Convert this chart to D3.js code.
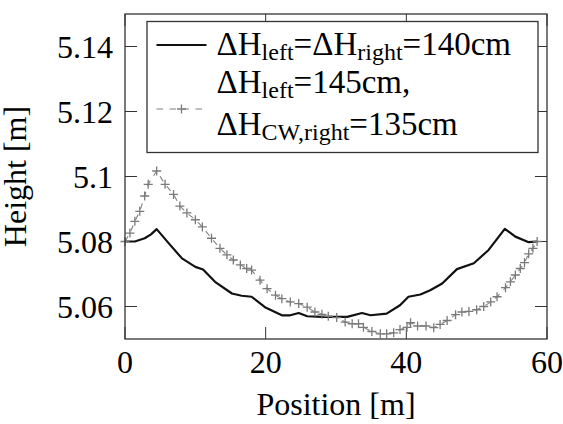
<!DOCTYPE html>
<html><head><meta charset="utf-8"><script src="https://cdn.jsdelivr.net/npm/d3@7"></script></head>
<body style="margin:0">
<script>
// Water level along the channel: symmetric case vs. asymmetric head drop

// solid: dH_left = dH_right = 140cm
const solidPos = [0, 1.4, 2.8, 3.7, 4.5, 6.2, 8.1, 10.0, 11.1, 12.8, 15.2, 16.6, 18.0, 19.9, 22.3, 23.5, 24.7, 25.9, 28.0, 31.6, 33.7, 34.9, 37.2, 39.1, 40.3, 42.0, 43.4, 45.1, 47.2, 49.6, 51.7, 54.0, 55.5, 57.4, 58.6];
const solidH = [5.0800, 5.0800, 5.0810, 5.0822, 5.0838, 5.0795, 5.0748, 5.0722, 5.0714, 5.0676, 5.0640, 5.0633, 5.0630, 5.0598, 5.0573, 5.0573, 5.0580, 5.0570, 5.0568, 5.0568, 5.0580, 5.0573, 5.0578, 5.0604, 5.0630, 5.0637, 5.0650, 5.0671, 5.0715, 5.0733, 5.0774, 5.0839, 5.0815, 5.0798, 5.0800];

// dashed + marks: dH_left = 145cm, dH_CW,right = 135cm
const crossPos = [0, 0.7, 1.4, 2.1, 2.8, 3.3, 4.5, 5.7, 6.9, 7.8, 8.8, 10.0, 11.0, 12.3, 13.5, 14.5, 15.4, 16.4, 17.3, 18.0, 19.2, 20.2, 21.4, 22.3, 23.5, 24.7, 25.9, 27.0, 28.0, 28.9, 30.1, 31.3, 32.3, 33.2, 33.9, 35.1, 36.3, 37.2, 38.2, 39.1, 40.1, 40.6, 41.6, 42.8, 43.9, 44.8, 45.8, 47.0, 47.9, 48.9, 50.0, 51.0, 52.0, 52.9, 54.1, 54.8, 55.5, 56.2, 56.8, 57.4, 58.0, 58.6];
const crossH = [5.0800, 5.0826, 5.0862, 5.0893, 5.0940, 5.0976, 5.1017, 5.0976, 5.0945, 5.0909, 5.0888, 5.0867, 5.0845, 5.0810, 5.0779, 5.0759, 5.0743, 5.0728, 5.0717, 5.0712, 5.0681, 5.0655, 5.0635, 5.0624, 5.0614, 5.0609, 5.0598, 5.0583, 5.0576, 5.0570, 5.0566, 5.0552, 5.0547, 5.0547, 5.0536, 5.0523, 5.0516, 5.0516, 5.0519, 5.0529, 5.0536, 5.0550, 5.0540, 5.0540, 5.0535, 5.0545, 5.0557, 5.0575, 5.0583, 5.0585, 5.0590, 5.0600, 5.0614, 5.0630, 5.0658, 5.0676, 5.0697, 5.0717, 5.0735, 5.0762, 5.0779, 5.0800];

const xTicks = [0, 20, 40, 60];
const yTicks = [5.06, 5.08, 5.1, 5.12, 5.14];
const yTickLabels = ['5.06', '5.08', '5.1', '5.12', '5.14'];

const W = 563, H = 424;
const m = { top: 14, right: 16, bottom: 85, left: 125 };
const w = W - m.left - m.right;
const h = H - m.top - m.bottom;

const svg = d3.select('body').append('svg').attr('width', W).attr('height', H);

// text first, so the serif face gets picked up before the marks
const txt = svg.append('g');
const plot = svg.insert('g', ':first-child').attr('transform', `translate(${m.left},${m.top})`);

const x = d3.scaleLinear().domain([0, 60]).range([0, w]);
const y = d3.scaleLinear().domain([5.05, 5.15]).range([h, 0]);

const serif = s => s.style('font-family', "'Liberation Serif'").attr('font-size', 32);

txt.selectAll('.xl')
    .data(xTicks)
    .enter()
    .append('text')
    .attr('x', d => m.left + x(d))
    .attr('y', m.top + h + 34)
    .attr('text-anchor', 'middle')
    .call(serif)
    .text(d => d);

txt.selectAll('.yl')
    .data(yTicks)
    .enter()
    .append('text')
    .attr('x', m.left - 12)
    .attr('y', d => m.top + y(d) + 11)
    .attr('text-anchor', 'end')
    .call(serif)
    .text((d, i) => yTickLabels[i]);

txt.append('text')
    .attr('x', m.left + w / 2)
    .attr('y', 415)
    .attr('text-anchor', 'middle')
    .call(serif)
    .text('Position [m]');

txt.append('text')
    .attr('transform', `translate(26,${m.top + h / 2}) rotate(-90)`)
    .attr('text-anchor', 'middle')
    .call(serif)
    .text('Height [m]');

// ticks inward, mirrored on top and right
const axisColor = '#333';
const tick = 12;
const tickG = plot.append('g').attr('stroke', axisColor).attr('stroke-width', 1);
xTicks.forEach(t => {
    tickG.append('line').attr('x1', x(t)).attr('x2', x(t)).attr('y1', h).attr('y2', h - tick);
    tickG.append('line').attr('x1', x(t)).attr('x2', x(t)).attr('y1', 0).attr('y2', tick);
});
yTicks.forEach(t => {
    tickG.append('line').attr('x1', 0).attr('x2', tick).attr('y1', y(t)).attr('y2', y(t));
    tickG.append('line').attr('x1', w).attr('x2', w - tick).attr('y1', y(t)).attr('y2', y(t));
});

// series
const solid = solidPos.map((p, i) => ({ p, v: solidH[i] }));
const cross = crossPos.map((p, i) => ({ p, v: crossH[i] }));
const line = d3.line().x(d => x(d.p)).y(d => y(d.v));

plot.append('path')
    .datum(cross)
    .attr('d', line)
    .attr('fill', 'none')
    .attr('stroke', '#808080')
    .attr('stroke-width', 1.1)
    .attr('stroke-dasharray', '6,6');

plot.append('path')
    .datum(solid)
    .attr('d', line)
    .attr('fill', 'none')
    .attr('stroke', '#111')
    .attr('stroke-width', 2.2)
    .attr('stroke-linejoin', 'round');

const plus = 'M-4.5,0H4.5M0,-4.5V4.5';
plot.selectAll('.mk')
    .data(cross)
    .enter()
    .append('path')
    .attr('transform', d => `translate(${x(d.p)},${y(d.v)})`)
    .attr('d', plus)
    .attr('stroke', '#7a7a7a')
    .attr('stroke-width', 1.3)
    .attr('fill', 'none');

plot.append('rect')
    .attr('width', w)
    .attr('height', h)
    .attr('fill', 'none')
    .attr('stroke', axisColor)
    .attr('stroke-width', 1.3);

// legend (drawn over the plot)
const lg = svg.append('g');
lg.append('rect')
    .attr('x', 147).attr('y', 21.5)
    .attr('width', 391).attr('height', 131)
    .attr('fill', '#fff')
    .attr('stroke', axisColor)
    .attr('stroke-width', 1.3);

lg.append('line')
    .attr('x1', 156.5).attr('x2', 206.5)
    .attr('y1', 45).attr('y2', 45)
    .attr('stroke', '#111').attr('stroke-width', 2.2);

lg.append('line')
    .attr('x1', 156.5).attr('x2', 206.5)
    .attr('y1', 109).attr('y2', 109)
    .attr('stroke', '#808080').attr('stroke-width', 1.1)
    .attr('stroke-dasharray', '6.5,6.5');
lg.append('path')
    .attr('transform', 'translate(181.5,109)')
    .attr('d', plus)
    .attr('stroke', '#7a7a7a').attr('stroke-width', 1.3);

// each entry: list of [text, isSubscript]
const legendRows = [
    { y: 55, parts: [['ΔH', false], ['left', true], ['=ΔH', false], ['right', true], ['=140cm', false]] },
    { y: 93, parts: [['ΔH', false], ['left', true], ['=145cm,', false]] },
    { y: 135, parts: [['ΔH', false], ['CW,right', true], ['=135cm', false]] }
];

legendRows.forEach(row => {
    const t = lg.append('text')
        .attr('x', 216.5)
        .attr('y', row.y)
        .call(serif)
        .attr('font-size', 33);
    row.parts.forEach(([s, sub]) => {
        t.append('tspan')
            .attr('font-size', sub ? 24 : 33)
            .attr('baseline-shift', sub ? '-5' : null)
            .text(s);
    });
});
</script></body></html>
